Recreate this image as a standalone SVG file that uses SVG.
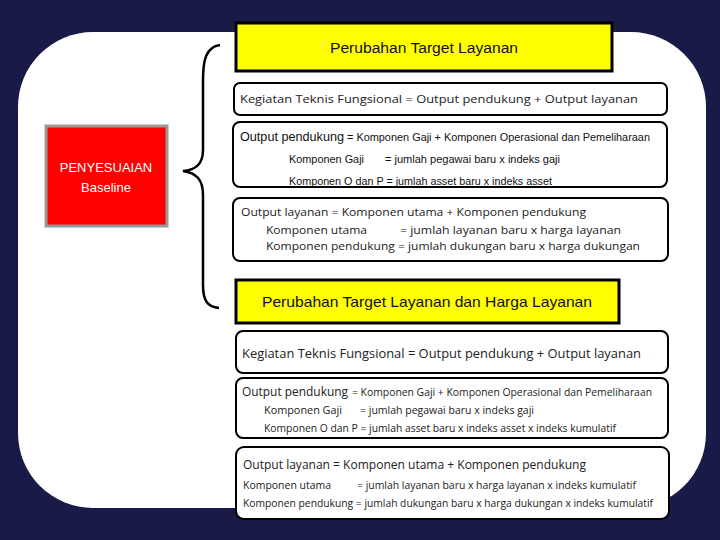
<svg xmlns="http://www.w3.org/2000/svg" width="720" height="540" viewBox="0 0 720 540">
<style>
.t{font-family:"Open Sans","DejaVu Sans",sans-serif;fill:#222}
.c{font-family:"Liberation Sans",Arial,sans-serif;fill:#111}
.box{fill:#fff;stroke:#000;stroke-width:2}
.yel{fill:#ffff00;stroke:#000;stroke-width:3}
</style>
<rect x="0" y="0" width="720" height="540" fill="#1a1a48"/>
<rect x="18" y="32" width="688" height="476" rx="75" ry="75" fill="#fff"/>
<g id="connectors">
<path d="M220,45 C206,47 203,60 203,80 L203,150 C203,164 196,170 183,171 C196,173 203,179 203,195 L203,285 C203,300 207,307 219,308" fill="none" stroke="#000" stroke-width="2.5"/>
</g>
<g id="baseline">
<rect x="46" y="126" width="121" height="100" fill="#ff0000" stroke="#999" stroke-width="3"/>
<text class="c" x="106" y="172" text-anchor="middle" font-size="13" fill="#fff" style="fill:#fff">PENYESUAIAN</text>
<text class="c" x="106" y="192" text-anchor="middle" font-size="13" style="fill:#fff">Baseline</text>
</g>
<g id="target1">
<rect class="yel" x="236" y="23" width="376" height="48"/>
<text class="c" x="424" y="53" text-anchor="middle" font-size="14" textLength="188" lengthAdjust="spacingAndGlyphs">Perubahan Target Layanan</text>
</g>
<g id="box1">
<rect class="box" x="234" y="83" width="433" height="32" rx="6"/>
<text class="t" x="240" y="103" font-size="11" textLength="398" lengthAdjust="spacingAndGlyphs">Kegiatan Teknis Fungsional = Output pendukung + Output layanan</text>
</g>
<g id="box2">
<rect class="box" x="233" y="122" width="434" height="65" rx="7"/>
<text class="c" x="240" y="141" font-size="13.5" textLength="104" lengthAdjust="spacingAndGlyphs">Output pendukung</text>
<text class="c" x="347" y="141" font-size="11" textLength="303" lengthAdjust="spacingAndGlyphs">= Komponen Gaji + Komponen Operasional dan Pemeliharaan</text>
<text class="c" x="289" y="163" font-size="11.5" textLength="75" lengthAdjust="spacingAndGlyphs">Komponen Gaji</text>
<text class="c" x="385" y="163" font-size="11.5" textLength="175" lengthAdjust="spacingAndGlyphs">= jumlah pegawai  baru x indeks gaji</text>
<text class="c" x="289" y="185" font-size="11.5" textLength="263" lengthAdjust="spacingAndGlyphs">Komponen O dan P = jumlah asset  baru x indeks asset</text>
</g>
<g id="box3">
<rect class="box" x="233" y="198" width="435" height="63" rx="7"/>
<text class="t" x="241" y="216" font-size="11" textLength="345" lengthAdjust="spacingAndGlyphs">Output layanan = Komponen utama + Komponen pendukung</text>
<text class="t" x="266" y="234" font-size="11" textLength="101" lengthAdjust="spacingAndGlyphs">Komponen utama</text>
<text class="t" x="400" y="234" font-size="11" textLength="221" lengthAdjust="spacingAndGlyphs">= jumlah layanan  baru x harga layanan</text>
<text class="t" x="266" y="250" font-size="11" textLength="374" lengthAdjust="spacingAndGlyphs">Komponen pendukung = jumlah dukungan baru x harga dukungan</text>
</g>
<g id="target2">
<rect class="yel" x="236" y="280" width="383" height="43"/>
<text class="c" x="427" y="307" text-anchor="middle" font-size="14.5" textLength="330" lengthAdjust="spacingAndGlyphs">Perubahan Target Layanan dan Harga Layanan</text>
</g>
<g id="box4">
<rect class="box" x="236" y="331" width="432" height="42" rx="7"/>
<text class="t" x="242" y="358" font-size="13" textLength="399" lengthAdjust="spacingAndGlyphs">Kegiatan Teknis Fungsional = Output pendukung + Output layanan</text>
</g>
<g id="box5">
<rect class="box" x="236" y="378" width="432" height="60" rx="7"/>
<text class="t" x="242" y="396" font-size="12.5" textLength="106" lengthAdjust="spacingAndGlyphs">Output pendukung</text>
<text class="t" x="352" y="396" font-size="10" textLength="300" lengthAdjust="spacingAndGlyphs">= Komponen Gaji + Komponen Operasional dan Pemeliharaan</text>
<text class="t" x="264" y="414" font-size="10.5" textLength="78" lengthAdjust="spacingAndGlyphs">Komponen Gaji</text>
<text class="t" x="360" y="414" font-size="10.5" textLength="174" lengthAdjust="spacingAndGlyphs">= jumlah pegawai baru x indeks gaji</text>
<text class="t" x="264" y="432" font-size="10.5" textLength="352" lengthAdjust="spacingAndGlyphs">Komponen O dan P = jumlah asset baru x indeks asset x indeks kumulatif</text>
</g>
<g id="box6">
<rect class="box" x="236" y="447" width="433" height="72" rx="8"/>
<text class="t" x="243" y="469" font-size="13" textLength="343" lengthAdjust="spacingAndGlyphs">Output layanan = Komponen utama + Komponen pendukung</text>
<text class="t" x="243" y="489" font-size="10.5" textLength="88" lengthAdjust="spacingAndGlyphs">Komponen utama</text>
<text class="t" x="357" y="489" font-size="10.5" textLength="279" lengthAdjust="spacingAndGlyphs">= jumlah layanan  baru x harga layanan x indeks kumulatif</text>
<text class="t" x="243" y="507" font-size="10.5" textLength="410" lengthAdjust="spacingAndGlyphs">Komponen pendukung = jumlah dukungan baru x harga dukungan x indeks kumulatif</text>
</g>
</svg>
